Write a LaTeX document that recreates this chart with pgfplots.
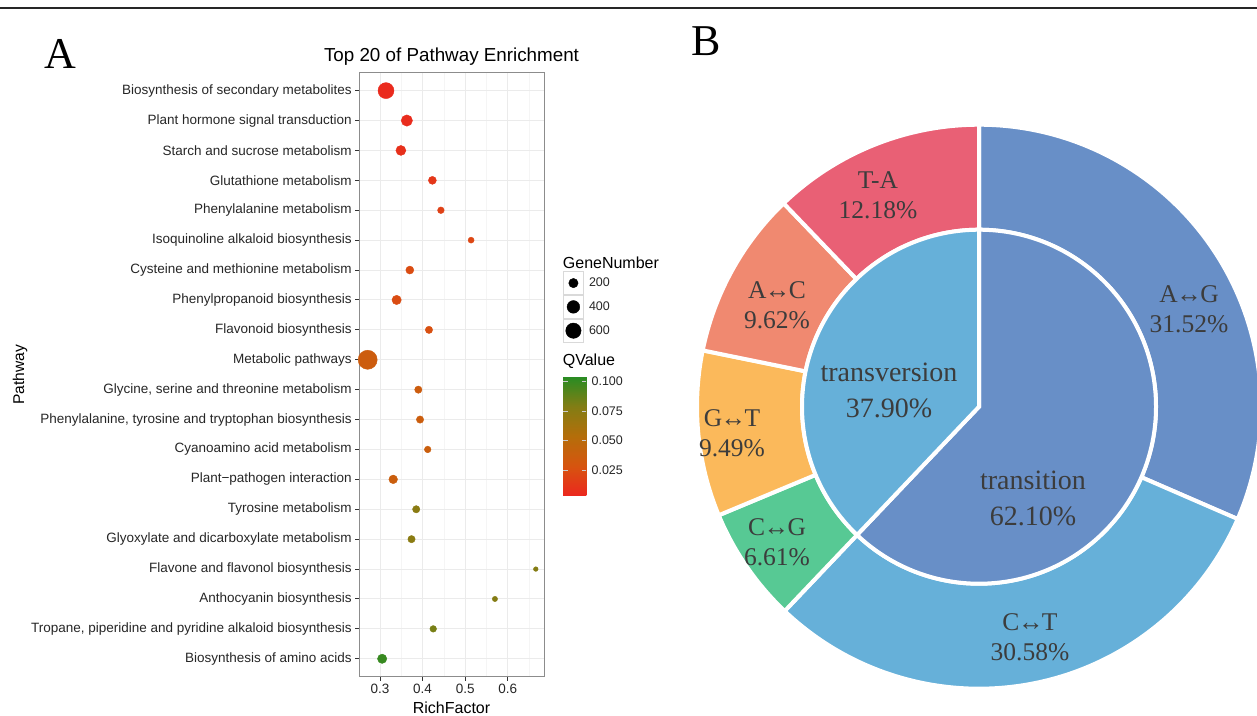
\documentclass[border=0pt]{standalone}
\usepackage{pgfplots}
\pgfplotsset{compat=1.18}
\usepackage{pgfplotstable}
\usepackage{fontspec}
\setmainfont{Liberation Serif}
\newfontfamily\arial{Liberation Sans}

\definecolor{cAG}{RGB}{104,143,199}
\definecolor{cCT}{RGB}{102,176,217}
\definecolor{cTA}{RGB}{233,96,117}
\definecolor{cAC}{RGB}{240,137,112}
\definecolor{cGT}{RGB}{251,185,91}
\definecolor{cCG}{RGB}{87,201,148}
\definecolor{ptxt}{RGB}{60,60,60}

\pgfplotstableread{
y rf gene q
20 0.314 654 0.005
19 0.363 309 0.006
18 0.349 232 0.008
17 0.423 135 0.012
16 0.443 82 0.018
15 0.514 60 0.021
14 0.370 135 0.024
13 0.339 198 0.024
12 0.415 108 0.026
11 0.271 950 0.036
10 0.390 108 0.036
9 0.394 108 0.037
8 0.412 82 0.038
7 0.331 165 0.038
6 0.385 108 0.075
5 0.374 108 0.075
4 0.666 21 0.078
3 0.570 39 0.078
2 0.425 82 0.082
1 0.305 198 0.100
}\pathwaydata

% percentages of panel B
\def\pAG{31.52}\def\pCT{30.58}\def\pCG{6.61}\def\pGT{9.49}\def\pAC{9.62}\def\pTA{12.18}
\def\pTS{62.10}\def\pTV{37.90}

\newcommand{\ringsector}[5]{% start end rin rout color
  \fill[#5, draw=white, line width=4pt]
    ({#4*cos(#1)},{#4*sin(#1)}) arc[start angle=#1, end angle=#2, radius=#4pt]
    -- ({#3*cos(#2)},{#3*sin(#2)}) arc[start angle=#2, end angle=#1, radius=#3pt] -- cycle;}
\newcommand{\piesector}[4]{% start end r color
  \fill[#4, draw=white, line width=4pt]
    (0,0) -- ({#3*cos(#1)},{#3*sin(#1)}) arc[start angle=#1, end angle=#2, radius=#3pt] -- cycle;}

\begin{document}
\begin{tikzpicture}
\path[use as bounding box] (0pt,0pt) rectangle (1257pt,-715pt);
\draw[line width=2.2pt, black!85] (0pt,-8.3pt) -- (1257pt,-8.3pt);

% ---------------- Panel A ----------------
\begin{axis}[
  name=A,
  scale only axis, width=185pt, height=604pt,
  at={(359.3pt,-676.7pt)}, anchor=south west,
  xmin=0.2513, xmax=0.686, ymin=0.4, ymax=20.6,
  xtick={0.3,0.4,0.5,0.6},
  minor xtick={0.25,0.35,0.45,0.55,0.65},
  ytick={1,...,20},
  yticklabels={Biosynthesis of amino acids,
    {Tropane, piperidine and pyridine alkaloid biosynthesis},
    Anthocyanin biosynthesis,
    Flavone and flavonol biosynthesis,
    Glyoxylate and dicarboxylate metabolism,
    Tyrosine metabolism,
    Plant−pathogen interaction,
    Cyanoamino acid metabolism,
    {Phenylalanine, tyrosine and tryptophan biosynthesis},
    {Glycine, serine and threonine metabolism},
    Metabolic pathways,
    Flavonoid biosynthesis,
    Phenylpropanoid biosynthesis,
    Cysteine and methionine metabolism,
    Isoquinoline alkaloid biosynthesis,
    Phenylalanine metabolism,
    Glutathione metabolism,
    Starch and sucrose metabolism,
    Plant hormone signal transduction,
    Biosynthesis of secondary metabolites},
  xmajorgrids=true, xminorgrids=true, ymajorgrids=true,
  major grid style={draw=black!8, line width=1pt},
  minor grid style={draw=black!4, line width=0.6pt},
  axis line style={draw=black!45, line width=0.8pt},
  tick align=outside, major tick length=4pt, minor tick length=0pt,
  xtick pos=bottom, ytick pos=left,
  tick style={draw=black!80, line width=1pt},
  ticklabel style={font=\arial\fontsize{13.5}{15}\selectfont, text=black!85},
  /pgf/number format/assume math mode=true,
  xticklabel style={/pgf/number format/fixed, /pgf/number format/precision=1},
  colormap={qv}{rgb255=(235,40,30) rgb255=(214,85,15) rgb255=(180,110,10) rgb255=(130,125,20) rgb255=(40,140,35)},
  point meta min=0.0038, point meta max=0.1042,
  colorbar,
  colorbar/width=23.3pt,
  colorbar style={
    at={(parent axis.north east)}, anchor=north west,
    xshift=10.2pt, yshift=-304pt,
    height=118.3pt,
    ytick={0.025,0.05,0.075,0.1},
    yticklabels={0.025,0.050,0.075,0.100},
    yticklabel pos=right, ytick pos=both,
    axis line style={draw=none},
    axis on top,
    tick align=inside, major tick length=4.5pt,
    tick style={draw=white!80!black, line width=0.6pt},
    yticklabel style={font=\arial\fontsize{12.5}{14}\selectfont, text=black!85, xshift=1.7pt},
  },
  legend style={at={(1.0995,0.6717)}, anchor=north west, draw=none, fill=none,
    inner sep=0pt, row sep=0pt, column sep=5pt,
    font=\arial\fontsize{12.5}{14}\selectfont, nodes={inner sep=0pt, text=black!85}},
  legend cell align=left,
  clip=false,
]
\addplot[scatter, only marks, mark=*, forget plot,
  point meta=\thisrow{q},
  scatter/use mapped color={draw=mapped color, fill=mapped color},
  visualization depends on={sqrt(3.5+0.0925*\thisrow{gene}) \as \perpointmarksize},
  scatter/@pre marker code/.append style={/tikz/mark size=\perpointmarksize}]
  table[x=rf, y=y] {\pathwaydata};
\addlegendimage{legend image code/.code={\draw[black!15, fill=white, line width=0.8pt] (0pt,-11.5pt) rectangle (20.3pt,11.5pt); \fill[black] (10.1pt,0pt) circle[radius=4.69pt];}}
\addlegendentry{200}
\addlegendimage{legend image code/.code={\draw[black!15, fill=white, line width=0.8pt] (0pt,-11.5pt) rectangle (20.3pt,11.5pt); \fill[black] (10.1pt,0pt) circle[radius=6.36pt];}}
\addlegendentry{400}
\addlegendimage{legend image code/.code={\draw[black!15, fill=white, line width=0.8pt] (0pt,-11.5pt) rectangle (20.3pt,11.5pt); \fill[black] (10.1pt,0pt) circle[radius=7.68pt];}}
\addlegendentry{600}
\end{axis}

\node[anchor=base, font=\arial\fontsize{18.8}{20}\selectfont] at (451.5pt,-61.5pt) {Top 20 of Pathway Enrichment};
\node[anchor=base, font=\arial\fontsize{16}{18}\selectfont] at (451.5pt,-713pt) {RichFactor};
\node[anchor=base, rotate=90, font=\arial\fontsize{15.6}{18}\selectfont] at (24pt,-375pt) {Pathway};
\node[anchor=base west, inner sep=0pt, font=\arial\fontsize{16}{18}\selectfont] at (562.7pt,-268pt) {GeneNumber};
\node[anchor=base west, inner sep=0pt, font=\arial\fontsize{16}{18}\selectfont] at (562.7pt,-365pt) {QValue};
\node[anchor=base, inner sep=0pt, font=\fontsize{44}{44}\selectfont] at (60.5pt,-68pt) {A};
\node[anchor=base west, inner sep=0pt, font=\fontsize{44}{44}\selectfont] at (691pt,-55pt) {B};

% ---------------- Panel B ----------------
\begin{axis}[
  x=1pt, y=1pt, xmin=-285, xmax=285, ymin=-285, ymax=285,
  hide axis, clip=false,
  at={(979pt,-406.7pt)}, anchor=center,
]
\pgfmathsetmacro{\aA}{90}
\pgfmathsetmacro{\aB}{\aA-3.6*\pAG}
\pgfmathsetmacro{\aC}{\aB-3.6*\pCT}
\pgfmathsetmacro{\aD}{\aC-3.6*\pCG}
\pgfmathsetmacro{\aE}{\aD-3.6*\pGT}
\pgfmathsetmacro{\aF}{\aE-3.6*\pAC}
\pgfmathsetmacro{\aG}{\aF-3.6*\pTA}
\pgfmathsetmacro{\bB}{90-3.6*\pTS}
\pgfmathsetmacro{\bC}{\bB-3.6*\pTV}
\ringsector{\aA}{\aB}{177}{282}{cAG}
\ringsector{\aB}{\aC}{177}{282}{cCT}
\ringsector{\aC}{\aD}{177}{282}{cCG}
\ringsector{\aD}{\aE}{177}{282}{cGT}
\ringsector{\aE}{\aF}{177}{282}{cAC}
\ringsector{\aF}{\aG}{177}{282}{cTA}
\piesector{90}{\bB}{177}{cAG}
\piesector{\bB}{\bC}{177}{cCT}

\begin{scope}[every node/.style={align=center, text=ptxt, font=\fontsize{25.5}{30}\selectfont}]
\node at (axis cs:-101,211.7) {T-A\\12.18\%};
\node at (axis cs:-202,101.7) {A\kern-1.5pt↔\kern-1.5pt C\\9.62\%};
\node at (axis cs:-247,-26.3) {G\kern-1.5pt↔\kern-1.5pt T\\9.49\%};
\node at (axis cs:-202,-135.3) {C\kern-1.5pt↔\kern-1.5pt G\\6.61\%};
\node at (axis cs:51,-230.3) {C\kern-1.5pt↔\kern-1.5pt T\\30.58\%};
\node at (axis cs:210,97.7) {A\kern-1.5pt↔\kern-1.5pt G\\31.52\%};
\end{scope}
\begin{scope}[every node/.style={align=center, text=ptxt, font=\fontsize{28}{36}\selectfont}]
\node at (axis cs:-90,16.7) {transversion\\37.90\%};
\node at (axis cs:54,-91.3) {transition\\62.10\%};
\end{scope}
\end{axis}
\end{tikzpicture}
\end{document}
